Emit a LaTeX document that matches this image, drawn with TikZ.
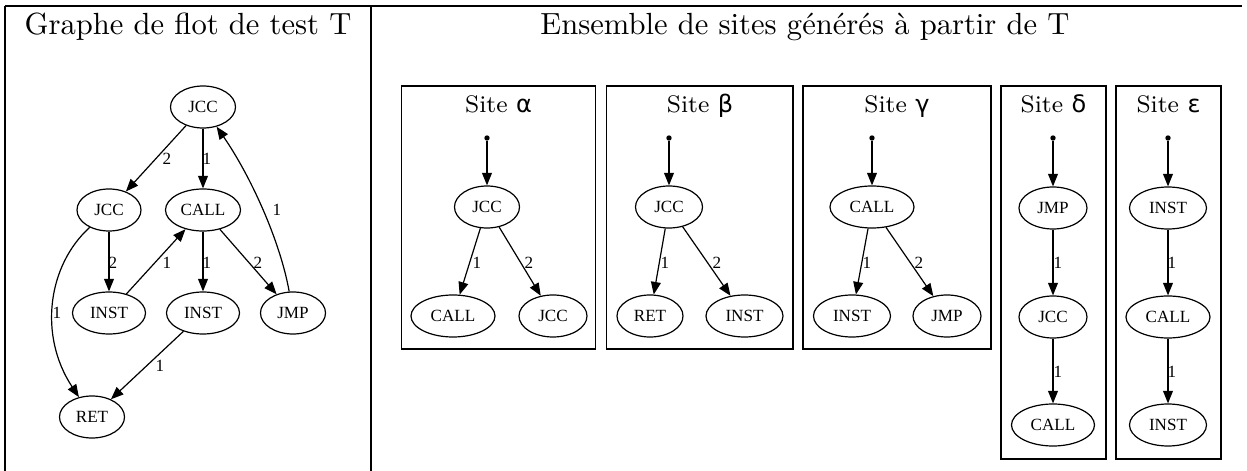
\documentclass[tikz,border=0pt]{standalone}
\usepackage{fontspec}
\newfontfamily\tms{Liberation Serif}
\newfontfamily\dvs{DejaVu Sans}
\usetikzlibrary{shapes.geometric,arrows.meta}
\begin{document}
\begin{tikzpicture}[x=0.33333pt,y=-0.33333pt,
  nd/.style={ellipse,draw,line width=0.4pt,inner sep=0pt,minimum height=14pt,font=\tms\fontsize{5.7}{6.5}\selectfont},
  w/.style={minimum width=#1pt/3},
  e/.style={line width=0.4pt,-{Triangle[length=4.2pt,width=3.3pt]}},
  lbl/.style={inner sep=0pt,font=\tms\fontsize{5.7}{6.5}\selectfont},
  dt/.style={circle,fill,inner sep=0pt,minimum size=1.8pt},
  sitebox/.style={draw,line width=0.4pt},
  rule/.style={line width=0.45pt},
  title/.style={anchor=base,inner sep=0pt,font=\fontsize{10.2}{12}\selectfont},
  stitle/.style={anchor=base,inner sep=0pt,font=\fontsize{8}{10}\selectfont},
]
\useasboundingbox (0,0) rectangle (1247,471);
% table rules
\draw[rule] (5,6) -- (1242,6);
\draw[rule] (5,6) -- (5,471);
\draw[rule] (371,6) -- (371,471);
% titles
\node[title] (t1) at (188,35) {Graphe de flot de test T};
\node[title] (t2) at (805,35) {Ensemble de sites générés à partir de T};

% ---- left graph
\node[nd,w=65] (a) at (203,107) {JCC};
\node[nd,w=64] (b) at (109,210) {JCC};
\node[nd,w=75] (c) at (203,210) {CALL};
\node[nd,w=73] (d) at (109,313) {INST};
\node[nd,w=73] (f) at (203,313) {INST};
\node[nd,w=65] (g) at (293,313) {JMP};
\node[nd,w=65] (r) at (92,417) {RET};
\draw[e] (a) -- (b);
\draw[e] (a) -- (c);
\draw[e] (g) .. controls (280,240) and (250,175) .. (a);
\draw[e] (b) -- (d);
\draw[e] (b) .. controls (48,265) and (38,335) .. (r);
\draw[e] (d) -- (c);
\draw[e] (c) -- (f);
\draw[e] (c) -- (g);
\draw[e] (f) -- (r);
\node[lbl] (l1) at (167,159) {2};
\node[lbl] (l2) at (207,159) {1};
\node[lbl] (l3) at (277,210) {1};
\node[lbl] (l4) at (113,263) {2};
\node[lbl] (l5) at (57,313) {1};
\node[lbl] (l6) at (167,263) {1};
\node[lbl] (l7) at (207,263) {1};
\node[lbl] (l8) at (258,263) {2};
\node[lbl] (l9) at (160,366) {1};

% ---- site boxes
\draw[sitebox] (401.5,86) rectangle (595.5,349);
\draw[sitebox] (606.5,86) rectangle (793,349);
\draw[sitebox] (803,86) rectangle (991,349);
\draw[sitebox] (1001,86) rectangle (1106,459);
\draw[sitebox] (1116,86) rectangle (1221,459);
\node[stitle] (sta) at (498.5,113) {Site {\dvs α}};
\node[stitle] (stb) at (700,113) {Site {\dvs β}};
\node[stitle] (stg) at (897,113) {Site {\dvs γ}};
\node[stitle] (std) at (1053.5,113) {Site {\dvs δ}};
\node[stitle] (ste) at (1168.5,113) {Site {\dvs ε}};

% alpha
\node[dt] (sa) at (487,138) {};
\node[nd,w=65] (a1) at (487,207) {JCC};
\node[nd,w=84] (a2) at (453,316) {CALL};
\node[nd,w=68] (a3) at (553,316) {JCC};
\draw[e] (sa) -- (a1);
\draw[e] (a1) -- (a2);
\draw[e] (a1) -- (a3);
\node[lbl] (la1) at (477,263) {1};
\node[lbl] (la2) at (529,263) {2};

% beta
\node[dt] (sb) at (669,138) {};
\node[nd,w=67] (b1) at (669,207) {JCC};
\node[nd,w=66] (b2) at (650,316) {RET};
\node[nd,w=77] (b3) at (744.5,316) {INST};
\draw[e] (sb) -- (b1);
\draw[e] (b1) -- (b2);
\draw[e] (b1) -- (b3);
\node[lbl] (lb1) at (665,263) {1};
\node[lbl] (lb2) at (717,263) {2};

% gamma
\node[dt] (sg) at (872,138) {};
\node[nd,w=84] (g1) at (872,207) {CALL};
\node[nd,w=77] (g2) at (852,316) {INST};
\node[nd,w=68] (g3) at (947,316) {JMP};
\draw[e] (sg) -- (g1);
\draw[e] (g1) -- (g2);
\draw[e] (g1) -- (g3);
\node[lbl] (lg1) at (867,263) {1};
\node[lbl] (lg2) at (919,263) {2};

% delta
\node[dt] (sd) at (1053,138) {};
\node[nd,w=68] (d1) at (1053,208) {JMP};
\node[nd,w=68] (d2) at (1053,317) {JCC};
\node[nd,w=83] (d3) at (1053,425) {CALL};
\draw[e] (sd) -- (d1);
\draw[e] (d1) -- (d2);
\draw[e] (d2) -- (d3);
\node[lbl] (ld1) at (1058,263) {1};
\node[lbl] (ld2) at (1058,372) {1};

% epsilon
\node[dt] (se) at (1168,138) {};
\node[nd,w=77] (e1) at (1168,208) {INST};
\node[nd,w=84] (e2) at (1168,317) {CALL};
\node[nd,w=77] (e3) at (1168,425) {INST};
\draw[e] (se) -- (e1);
\draw[e] (e1) -- (e2);
\draw[e] (e2) -- (e3);
\node[lbl] (le1) at (1172,263) {1};
\node[lbl] (le2) at (1172,372) {1};
\end{tikzpicture}
\end{document}
